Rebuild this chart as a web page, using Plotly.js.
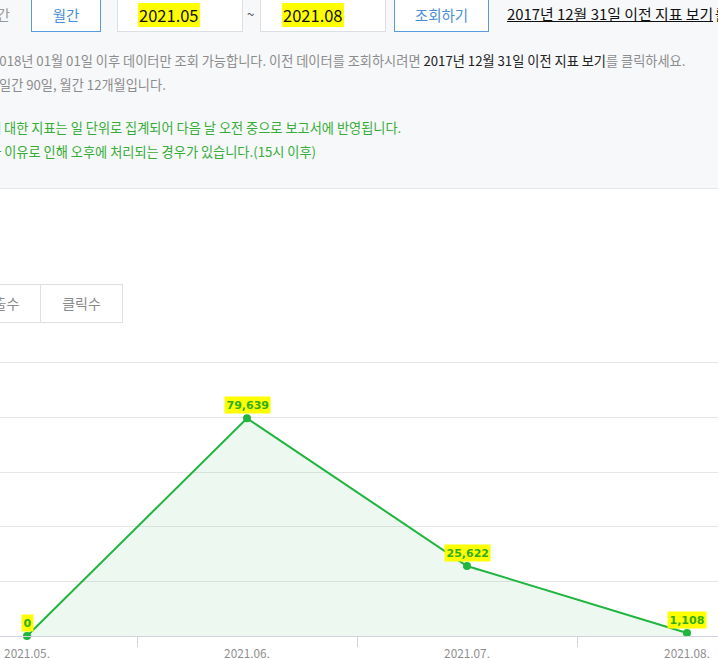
<!DOCTYPE html>
<html>
<head>
<meta charset="utf-8">
<script src="https://cdn.plot.ly/plotly-3.0.1.min.js"></script>
<style>
  html, body { margin: 0; padding: 0; width: 718px; height: 659px; overflow: hidden; background: #ffffff;
    font-family: "Noto Sans CJK KR", "Noto Sans", sans-serif; }
  .abs { position: absolute; white-space: nowrap; }
  #topbg { position: absolute; left: 0; top: 0; width: 718px; height: 188px; background: #f7f8fa;
    border-bottom: 1px solid #e3e6ea; }
  .btn { position: absolute; box-sizing: border-box; background: #fff; border: 1px solid #5a9be0;
    color: #4a8fd6; font-size: 14.5px; text-align: center; line-height: 30px; }
  .inp { position: absolute; box-sizing: border-box; background: #fff; border: 1px solid #dcdfe3;
    color: #111; font-size: 16.5px; line-height: 30px; }
  .hl { background: #ffff00; padding: 0 1px; }
  .info { font-size: 13.2px; color: #8c8c8c; }
  .green { font-size: 13.2px; color: #35ad37; }
  .tab { position: absolute; box-sizing: border-box; background: #fff; border: 1px solid #e0e0e0;
    color: #8a8a8a; font-size: 14px; text-align: center; line-height: 36px; }
  #chart { position: absolute; left: 0; top: 340px; width: 718px; height: 319px; }
</style>
</head>
<body>
<div id="topbg"></div>
<span class="abs" style="left:-16px; top:2px; font-size:14px; color:#999; line-height:24px;">일간</span>
<div class="btn" style="left:31px; top:-1px; width:70px; height:33px;">월간</div>
<div class="inp" style="left:117px; top:-1px; width:126px; height:33px;"><span class="hl" style="margin-left:20px;">2021.05</span></div>
<span class="abs" style="left:247px; top:4px; font-size:13px; color:#555;">~</span>
<div class="inp" style="left:260px; top:-1px; width:126px; height:33px;"><span class="hl" style="margin-left:21px;">2021.08</span></div>
<div class="btn" style="left:394px; top:-1px; width:95px; height:33px;">조회하기</div>
<span class="abs" style="left:507px; top:3px; font-size:14.9px; color:#111; text-decoration:underline;">2017년 12월 31일 이전 지표 보기</span>
<span class="abs" style="left:715px; top:3px; font-size:14.5px; color:#111;">를</span>

<span class="abs info" style="left:-8px; top:51px;">2018년 01월 01일 이후 데이터만 조회 가능합니다. 이전 데이터를 조회하시려면 <span style="color:#222;">2017년 12월 31일 이전 지표 보기</span>를 클릭하세요.</span>
<span class="abs info" style="left:-1px; top:75px;">일간 90일, 월간 12개월입니다.</span>
<span class="abs green" style="left:-11px; top:118px;">에 대한 지표는 일 단위로 집계되어 다음 날 오전 중으로 보고서에 반영됩니다.</span>
<span class="abs green" style="left:-23px; top:142px;">기타 이유로 인해 오후에 처리되는 경우가 있습니다.(15시 이후)</span>

<div class="tab" style="left:-41px; top:284px; width:82px; height:39px;">노출수</div>
<div class="tab" style="left:40px; top:284px; width:83px; height:39px;">클릭수</div>

<div id="chart"></div>
<script>
// ---- data ----
const categories = ['2021.05.', '2021.06.', '2021.07.', '2021.08.'];
const clicks = [0, 79639, 25622, 1108];
const yTickValues = [0, 20000, 40000, 60000, 80000, 100000];

const xIdx = categories.map((c, i) => i);
const labels = clicks.map(v => v.toLocaleString('en-US'));

const trace = {
  x: xIdx,
  y: clicks,
  type: 'scatter',
  mode: 'lines+markers',
  line: { color: '#1fb53e', width: 2 },
  marker: { color: '#1fb53e', size: 8 },
  fill: 'tozeroy',
  fillcolor: 'rgba(30,180,60,0.08)',
  cliponaxis: false,
  hoverinfo: 'none'
};

const annotations = xIdx.map((x, i) => ({
  x: x, y: clicks[i], xref: 'x', yref: 'y',
  text: '<b>' + labels[i] + '</b>',
  showarrow: false, yanchor: 'bottom', yshift: 4,
  bgcolor: '#ffff00', borderpad: 1.5,
  font: { family: 'DejaVu Sans', size: 11, color: '#2fae1c' }
}));

const layout = {
  width: 718, height: 319,
  margin: { l: 0, r: 0, t: 20, b: 23, pad: 0 },
  paper_bgcolor: 'rgba(0,0,0,0)',
  plot_bgcolor: 'rgba(0,0,0,0)',
  showlegend: false,
  xaxis: {
    range: [-27/220, 3 + 31/220],
    tickmode: 'array', tickvals: xIdx, ticktext: categories,
    ticks: 'outside', ticklen: 7, tickcolor: 'rgba(0,0,0,0)',
    minor: { tick0: 0.5, dtick: 1, ticks: 'outside', ticklen: 10, tickcolor: '#cfd4da', showgrid: false },
    showgrid: false, zeroline: false,
    showline: true, linecolor: '#cfd4da', linewidth: 1,
    tickfont: { family: 'Noto Sans CJK KR', size: 11.8, color: '#8e8e8e' },
    fixedrange: true
  },
  yaxis: {
    range: [0, 101000],
    tickmode: 'array', tickvals: yTickValues,
    showticklabels: false, ticks: '',
    showgrid: true, gridcolor: '#e6e6e6', gridwidth: 1,
    zeroline: false, showline: false,
    fixedrange: true
  },
  annotations: annotations
};

Plotly.newPlot('chart', [trace], layout, { displayModeBar: false, staticPlot: true });
</script>
</body>
</html>
